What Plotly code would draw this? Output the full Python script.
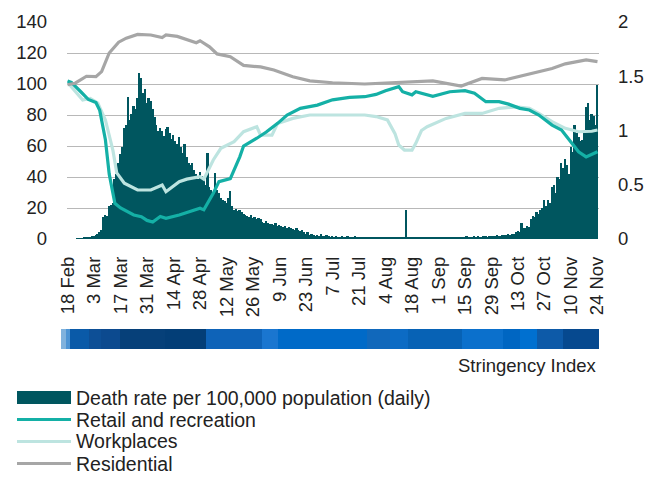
import pandas as pd
import plotly.graph_objects as go

START = "2020-02-18"

# Daily death rate per 100,000 population (right axis), 18 Feb - 24 Nov
death_rate = [
    0, 0, 0, 0, 0, 0.005, 0.003, 0.005, 0.008, 0.01, 0.01, 0.015, 0.02, 0.03,
    0.03, 0.04, 0.05, 0.06, 0.08, 0.2, 0.22, 0.21, 0.3, 0.31, 0.33, 0.55, 0.6, 0.7,
    0.78, 0.85, 1.02, 1.05, 1.31, 1.1, 1.15, 1.23, 1.2, 1.3, 1.53, 1.48, 1.35, 1.38,
    1.25, 1.3, 1.27, 1.2, 1.12, 1.05, 1.0, 1.02, 1.0, 0.95, 1.01, 1.03, 0.98, 0.92,
    0.96, 0.9, 0.88, 0.94, 0.85, 0.79, 0.88, 0.76, 0.7, 0.68, 0.7, 0.64, 0.6, 0.55,
    0.62, 0.58, 0.55, 0.5, 0.79, 0.48, 0.45, 0.43, 0.61, 0.45, 0.42, 0.38, 0.36, 0.35,
    0.33, 0.38, 0.44, 0.3, 0.27, 0.28, 0.26, 0.27, 0.25, 0.23, 0.22, 0.21, 0.2, 0.22,
    0.19, 0.2, 0.18, 0.19, 0.18, 0.16, 0.15, 0.17, 0.15, 0.14, 0.14, 0.13, 0.15, 0.12,
    0.13, 0.12, 0.11, 0.12, 0.1, 0.11, 0.1, 0.09, 0.08, 0.1, 0.08, 0.07, 0.08, 0.06,
    0.05, 0.06, 0.04, 0.05, 0.04, 0.03, 0.04, 0.03, 0.05, 0.03, 0.03, 0.04, 0.03, 0.02,
    0.03, 0.02, 0.03, 0.02, 0.02, 0.03, 0.02, 0.02, 0.03, 0.02, 0.02, 0.02, 0.03, 0.02,
    0.02, 0.02, 0.02, 0.01, 0.02, 0.02, 0.02, 0.01, 0.02, 0.02, 0.01, 0.02, 0.02, 0.01,
    0.02, 0.01, 0.02, 0.02, 0.01, 0.02, 0.01, 0.02, 0.02, 0.02, 0.01, 0.27, 0.01, 0.02,
    0.01, 0.02, 0.02, 0.01, 0.02, 0.01, 0.02, 0.02, 0.01, 0.02, 0.02, 0.02, 0.01, 0.02,
    0.02, 0.02, 0.02, 0.01, 0.02, 0.02, 0.02, 0.02, 0.02, 0.01, 0.02, 0.02, 0.02, 0.02,
    0.02, 0.03, 0.02, 0.02, 0.02, 0.03, 0.02, 0.03, 0.02, 0.02, 0.03, 0.03, 0.02, 0.03,
    0.03, 0.03, 0.03, 0.04, 0.03, 0.03, 0.04, 0.04, 0.04, 0.05, 0.04, 0.05, 0.05, 0.06,
    0.07, 0.06, 0.15, 0.1, 0.1, 0.12, 0.11, 0.18, 0.21, 0.2, 0.25, 0.23, 0.27, 0.29,
    0.36, 0.3, 0.36, 0.33, 0.48, 0.5, 0.42, 0.57, 0.55, 0.7, 0.65, 0.74, 0.68, 0.6,
    0.85, 0.8, 1.05, 0.98, 0.94, 0.9, 0.91, 1.0, 1.22, 1.25, 1.1, 1.15, 1.13, 1.05,
    1.42,
]

# Mobility series (left axis, baseline = 100); x given as days since 18 Feb
retail_day = [0, 2, 7, 11, 15, 17, 20, 22, 25, 28, 35, 39, 42, 45, 49, 52, 59, 65, 70, 72,
              77, 80, 86, 91, 93, 100, 105, 111, 116, 123, 132, 140, 149, 157, 163, 168,
              175, 177, 182, 184, 193, 202, 210, 215, 221, 228, 233, 239, 244, 249, 256,
              261, 265, 270, 274, 280]
retail = [102, 101, 95, 90, 88, 83, 64, 42, 23, 20, 15.5, 14.4, 12, 11, 14.5, 13.3, 15.5,
          17.6, 19.8, 18.8, 29.5, 37, 39, 53, 60, 65, 69, 74.6, 80, 84.3, 86.4, 89.8, 91.4,
          91.8, 93.3, 95.7, 98.3, 95, 93, 95, 92, 95, 95.7, 94, 88.6, 88.6, 87, 84.3, 83.2,
          80, 73.5, 70.3, 64, 56.3, 53, 56.3]

work_day = [0, 4, 8, 12, 16, 20, 24, 26, 30, 37, 44, 50, 52, 59, 63, 70, 72, 77, 81, 88, 93,
            100, 102, 108, 111, 119, 128, 140, 157, 163, 169, 173, 175, 178, 182, 184, 187,
            190, 194, 200, 210, 219, 228, 237, 244, 249, 256, 263, 270, 277, 280]
workplaces = [101, 95, 89.7, 90.7, 87.7, 76.8, 57, 42.6, 36, 31.6, 31.6, 34.8, 30.5, 37,
              38.6, 40.2, 38.6, 51, 58.5, 62.8, 69.2, 72.4, 67, 67, 74.6, 77.8, 80, 80, 80,
              79, 76.8, 68, 60.6, 57.4, 57.4, 61.7, 70, 72.4, 74.6, 77.8, 81, 81, 84.3, 85.3,
              84.3, 81, 75.7, 71.4, 69.2, 69.5, 70.3]

resid_day = [0, 4, 10, 15, 18, 22, 27, 31, 37, 44, 50, 52, 58, 63, 68, 70, 75, 79, 86, 93,
             102, 109, 119, 128, 140, 157, 175, 193, 208, 219, 231, 239, 249, 256, 263, 274,
             280]
residential = [99.5, 100.5, 105, 104.7, 108, 120, 127, 129.6, 132, 131.6, 130, 131.6, 130.7,
               128.4, 126.6, 127.9, 124, 119.4, 117.6, 112, 111, 109, 104.7, 102, 100.8, 100,
               100.8, 102, 98.7, 103.6, 102.6, 105, 108, 110, 113, 115.5, 114.4]

# Stringency Index strip: change points (days since 18 Feb) and level
stringency_edge_day = [-3.4, -0.8, 1.3, 11.4, 17.7, 27.8, 51.6, 73.2, 102.9, 111.3, 158.4,
                       170.5, 180, 208.6, 230.3, 239.2, 248.3, 262, 281.1]
stringency = [11, 25, 70, 75, 80, 88, 93, 66, 50, 60, 64, 61, 65, 57, 62, 55, 72, 82]

legend_labels = ["Death rate per 100,000 population (daily)", "Retail and recreation",
                 "Workplaces", "Residential"]

# ---------------------------------------------------------------------------
BAR_C = "#00565f"
RETAIL_C = "#14b0a6"
WORK_C = "#bde4e0"
RESID_C = "#a6a6a6"
TXT = "#222222"
FONT = "Liberation Sans, Arial, sans-serif"

start = pd.Timestamp(START)


def to_dates(days):
    return [start + pd.Timedelta(days=d) for d in days]


death_dates = pd.date_range(start, periods=len(death_rate), freq="D")

stops = [(0, "#9cc3e6"), (11, "#80b2dd"), (25, "#4d94d4"), (50, "#1a76d0"), (55, "#0070d0"),
         (57, "#0b70cc"), (60, "#006ac8"), (61, "#0c6bc4"), (62, "#0066c2"), (64, "#1168bb"),
         (65, "#0762b5"), (66, "#0e63b8"), (70, "#0a5aa8"), (72, "#0d5aa8"), (75, "#0d4f96"),
         (80, "#0c4a8f"), (82, "#06498f"), (88, "#064079"), (93, "#033e77"), (100, "#023a70")]
colorscale = [[v / 100, c] for v, c in stops]

fig = go.Figure()
fig.add_trace(go.Bar(x=death_dates, y=death_rate, marker=dict(color=BAR_C, line=dict(width=0)),
                     xaxis="x", yaxis="y", name=legend_labels[0]))
fig.add_trace(go.Scatter(x=to_dates(work_day), y=workplaces, mode="lines",
                         line=dict(color=WORK_C, width=3.2), xaxis="x", yaxis="y2",
                         name=legend_labels[2]))
fig.add_trace(go.Scatter(x=to_dates(retail_day), y=retail, mode="lines",
                         line=dict(color=RETAIL_C, width=3.2), xaxis="x", yaxis="y2",
                         name=legend_labels[1]))
fig.add_trace(go.Scatter(x=to_dates(resid_day), y=residential, mode="lines",
                         line=dict(color=RESID_C, width=3.2), xaxis="x", yaxis="y2",
                         name=legend_labels[3]))
fig.add_trace(go.Heatmap(x=to_dates(stringency_edge_day), y=[0, 1], z=[stringency],
                         colorscale=colorscale, zmin=0, zmax=100, showscale=False,
                         xaxis="x2", yaxis="y3", hoverinfo="skip"))

# The page body adds an 8px margin: size the figure to the visible window.
OFF = 8
W, H = 664 - OFF, 477 - OFF
ML, MT = 61 - OFF, 22 - OFF
MR = W - (599 - OFF)
MB = H - (349 - OFF)
PW, PH = W - ML - MR, H - MT - MB


def px_x(px):
    return (px - OFF - ML) / PW


def px_y(py):
    return (H - MB - (py - OFF)) / PH


shapes = []
annotations = []
rows = [397.5, 419.5, 441.5, 463.5]
sym_colors = [BAR_C, RETAIL_C, WORK_C, RESID_C]
for i, (lab, yy) in enumerate(zip(legend_labels, rows)):
    if i == 0:
        shapes.append(dict(type="rect", xref="paper", yref="paper", x0=px_x(17), x1=px_x(71),
                           y0=px_y(yy - 6.5), y1=px_y(yy + 6.5), fillcolor=BAR_C,
                           line=dict(width=0)))
    else:
        shapes.append(dict(type="line", xref="paper", yref="paper", x0=px_x(17), x1=px_x(71),
                           y0=px_y(yy), y1=px_y(yy), line=dict(color=sym_colors[i], width=3.2)))
    annotations.append(dict(text=lab, xref="paper", yref="paper", x=px_x(74), y=px_y(yy),
                            xanchor="left", yanchor="middle", showarrow=False,
                            font=dict(size=19.5, color=TXT, family=FONT)))

annotations.append(dict(text="Stringency Index", xref="paper", yref="paper", x=px_x(599),
                        y=px_y(365), xanchor="right", yanchor="middle", showarrow=False,
                        font=dict(size=18.5, color=TXT, family=FONT)))

fig.update_layout(
    width=W, height=H,
    margin=dict(l=ML, r=MR, t=MT, b=MB, pad=0, autoexpand=False),
    paper_bgcolor="white", plot_bgcolor="rgba(0,0,0,0)",
    bargap=0, showlegend=False,
    font=dict(family=FONT, size=18.5, color=TXT),
    xaxis=dict(type="date", domain=[px_x(67), 1], anchor="y",
               range=[start - pd.Timedelta(hours=7), start + pd.Timedelta(days=280.8)],
               tick0=START, dtick=14 * 86400000, tickformat="%-d %b", tickangle=-90,
               showgrid=False, showline=False, ticks="", zeroline=False,
               ticklabelstandoff=13),
    yaxis=dict(domain=[px_y(239), 1], range=[0, 2], dtick=0.5, side="right", anchor="x",
               showgrid=False, zeroline=False, showline=False, ticks="",
               ticklabelstandoff=18),
    yaxis2=dict(overlaying="y", side="left", anchor="x", range=[0, 140], dtick=20,
                showgrid=True, gridcolor="#b8b8b8", gridwidth=1, zeroline=False,
                showline=False, ticks="", ticklabelstandoff=19),
    xaxis2=dict(type="date", domain=[0, 1], anchor="y3", visible=False,
                range=[to_dates([stringency_edge_day[0]])[0],
                       to_dates([stringency_edge_day[-1]])[0]]),
    yaxis3=dict(domain=[0, px_y(329)], range=[0, 1], anchor="x2", visible=False),
    shapes=shapes, annotations=annotations,
)

fig.write_html("out.html")
